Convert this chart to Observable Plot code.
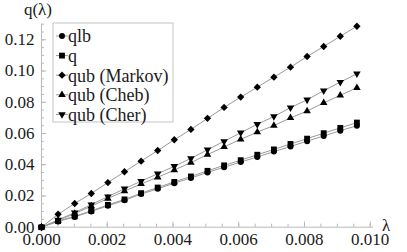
<!DOCTYPE html>
<html>
<head>
<meta charset="utf-8">
<script src="https://cdn.jsdelivr.net/npm/d3@7"></script>
<script src="https://cdn.jsdelivr.net/npm/@observablehq/plot@0.6"></script>
<style>
  html, body { margin: 0; padding: 0; background: #fff; }
  #chart { width: 407px; height: 252px; }
</style>
</head>
<body>
<div id="chart"></div>
<script>
// ---- data ----
const lambda = [0, 0.000505, 0.00101, 0.001515, 0.00202, 0.002525, 0.00303, 0.003535, 0.00404, 0.004545,
                0.00505, 0.005555, 0.00606, 0.006565, 0.00707, 0.007575, 0.00808, 0.008585, 0.00909, 0.009595];
const qlb = [0, 0.0037, 0.0066, 0.0101, 0.0137, 0.0172, 0.0212, 0.0246, 0.0282, 0.0315,
             0.0351, 0.0384, 0.0417, 0.0450, 0.0484, 0.0517, 0.0551, 0.0584, 0.0618, 0.0650];
const q = [0, 0.0039, 0.0070, 0.0105, 0.0143, 0.0178, 0.0218, 0.0254, 0.0290, 0.0325,
           0.0361, 0.0396, 0.0429, 0.0464, 0.0498, 0.0533, 0.0567, 0.0602, 0.0636, 0.0670];
const qubMarkov = [0, 0.0083, 0.0152, 0.0216, 0.0286, 0.0355, 0.0423, 0.0491, 0.0560, 0.0626,
                   0.0697, 0.0767, 0.0833, 0.0897, 0.0961, 0.1025, 0.1093, 0.1157, 0.1223, 0.1287];
const qubCheb = [0, 0.0043, 0.0087, 0.0135, 0.0184, 0.0231, 0.0277, 0.0320, 0.0366, 0.0414,
                 0.0465, 0.0514, 0.0563, 0.0609, 0.0651, 0.0700, 0.0744, 0.0796, 0.0845, 0.0893];
const qubCher = [0, 0.0047, 0.0093, 0.0145, 0.0196, 0.0246, 0.0295, 0.0342, 0.0390, 0.0441,
                 0.0496, 0.0550, 0.0605, 0.0659, 0.0709, 0.0766, 0.0816, 0.0874, 0.0929, 0.0983];
const seriesNames = ["qlb", "q", "qub (Markov)", "qub (Cheb)", "qub (Cher)"];
const xTickLabels = [0, 0.002, 0.004, 0.006, 0.008, 0.010];
const yTickLabels = [0, 0.02, 0.04, 0.06, 0.08, 0.10, 0.12];
const xMinorTicks = d3.range(0, 0.01001, 0.0005);
const yMinorTicks = d3.range(0, 0.1301, 0.005);

// ---- styling per series ----
const styles = {
  "qlb":          {symbol: "circle",   r: 3.0, rotate: 0},
  "q":            {symbol: "square",   r: 3.3, rotate: 0},
  "qub (Markov)": {symbol: "diamond2", r: 3.3, rotate: 0},
  "qub (Cheb)":   {symbol: "triangle", r: 2.8, rotate: 0},
  "qub (Cher)":   {symbol: "triangle", r: 2.8, rotate: 180}
};
const seriesValues = [qlb, q, qubMarkov, qubCheb, qubCher];
const rows = [];
seriesNames.forEach((name, i) => {
  lambda.forEach((x, k) => rows.push({series: name, x, y: seriesValues[i][k]}));
});

const font = "'Liberation Serif', 'DejaVu Serif', serif";
const lineColor = "#9a9a9a";
const axisColor = "#b8b8b8";
const textColor = "#1a1a1a";

const plot = Plot.plot({
  width: 407,
  height: 252,
  marginLeft: 0, marginRight: 0, marginTop: 0, marginBottom: 0,
  style: {fontFamily: font, fontSize: "17px", background: "#fff", color: textColor},
  x: {domain: [0, 0.0101], range: [41, 373], axis: null},
  y: {domain: [0, 0.13], range: [226.7, 23.7], axis: null},
  marks: [
    // axis lines
    Plot.ruleY([0], {x1: 0, x2: 0.0101, stroke: axisColor}),
    Plot.ruleX([0], {y1: 0, y2: 0.13, stroke: axisColor}),
    // x ticks (inward)
    Plot.ruleX(xMinorTicks, {x: d => d, y1: 0, y2: 0.0019, stroke: axisColor}),
    Plot.ruleX(xTickLabels, {x: d => d, y1: 0, y2: 0.0033, stroke: axisColor}),
    // y ticks (inward)
    Plot.ruleY(yMinorTicks, {y: d => d, x1: 0, x2: 0.00009, stroke: axisColor}),
    Plot.ruleY(yTickLabels, {y: d => d, x1: 0, x2: 0.00016, stroke: axisColor}),
    // tick labels
    Plot.text(xTickLabels, {x: d => d, y: 0, text: d3.format(".3f"), dy: 12, fontSize: 17, fill: textColor, textAnchor: "middle"}),
    Plot.text(yTickLabels, {x: 0, y: d => d, text: d3.format(".2f"), dx: -7, fontSize: 17, fill: textColor, textAnchor: "end"}),
    // series
    Plot.line(rows, {x: "x", y: "y", z: "series", stroke: lineColor, strokeWidth: 1}),
    ...seriesNames.map(name => Plot.dot(rows.filter(d => d.series === name), {
      x: "x", y: "y", symbol: styles[name].symbol, r: styles[name].r,
      rotate: styles[name].rotate, fill: "#000", stroke: "none"
    }))
  ]
});

document.getElementById("chart").appendChild(plot);

// ---- axis titles and legend ----
const svg = d3.select(plot);
svg.append("text").attr("x", 38).attr("y", 15).attr("text-anchor", "middle")
  .attr("font-family", font).attr("font-size", 17).attr("fill", textColor).text("q(λ)");
svg.append("text").attr("x", 386).attr("y", 231).attr("text-anchor", "middle")
  .attr("font-family", font).attr("font-size", 17).attr("fill", textColor).text("λ");

const legend = svg.append("g");
const lx = 53, ly = 23, lw = 120, lh = 99;
legend.append("rect").attr("x", lx).attr("y", ly).attr("width", lw).attr("height", lh)
  .attr("fill", "#fff").attr("stroke", "#c4c4c4");
const symMap = {circle: d3.symbolCircle, square: d3.symbolSquare, diamond2: d3.symbolDiamond2, triangle: d3.symbolTriangle};
seriesNames.forEach((name, i) => {
  const cy = ly + 13 + i * 19.6;
  const g = legend.append("g");
  g.append("line").attr("x1", lx + 3).attr("x2", lx + 15).attr("y1", cy).attr("y2", cy)
    .attr("stroke", lineColor);
  const st = styles[name];
  const size = Math.PI * st.r * st.r;
  g.append("path").attr("d", d3.symbol(symMap[st.symbol], size)())
    .attr("transform", `translate(${lx + 9},${cy}) rotate(${st.rotate})`).attr("fill", "#000");
  g.append("text").attr("x", lx + 15).attr("y", cy).attr("dy", "0.35em").attr("text-anchor", "start")
    .attr("font-family", font).attr("font-size", 18).attr("fill", textColor).text(name);
});
</script>
</body>
</html>
